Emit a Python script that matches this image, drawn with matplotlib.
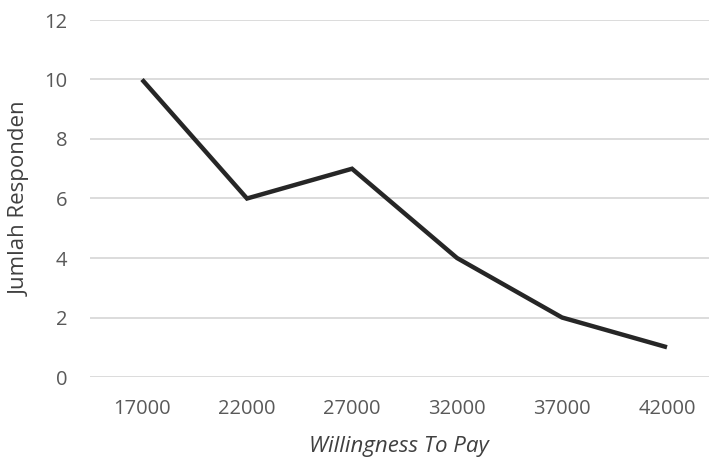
import matplotlib
matplotlib.use("Agg")
import matplotlib.pyplot as plt

categories = ["17000", "22000", "27000", "32000", "37000", "42000"]
values = [10, 6, 7, 4, 2, 1]
yticks = [0, 2, 4, 6, 8, 10, 12]

plt.rcParams['font.family'] = ['Open Sans', 'DejaVu Sans']

W, H = 709, 461
fig = plt.figure(figsize=(W/100, H/100), dpi=100)
left, right = 89.5, 709
top, bottom = 20, 377
ax = fig.add_axes([left/W, (H-bottom)/H, (right-left)/W, (bottom-top)/H])

x = list(range(len(categories)))
ax.plot(x, values, color="#262626", lw=3.2, solid_joinstyle="miter", solid_capstyle="butt", zorder=3)

ax.set_ylim(0, 12)
ax.set_yticks(yticks)
ax.set_xticks(x)
ax.set_xticklabels(categories)
ax.set_xlim(-0.5, 5.5 - (719.5 - 709) / 105)
ax.grid(axis="y", color="#d9d9d9", lw=1.3)
ax.grid(axis="x", visible=False)
for s in ax.spines.values():
    s.set_visible(False)
ax.tick_params(axis="both", length=0, colors="#595959", labelsize=14.5)
ax.tick_params(axis="x", pad=16)
ax.tick_params(axis="y", pad=16)
ax.set_axisbelow(True)

ax.set_xlabel("Willingness To Pay", fontsize=16, color="#404040", style="italic", labelpad=12)
ax.set_ylabel("Jumlah Responden", fontsize=16, color="#404040", labelpad=10)

fig.savefig("out.png", dpi=100)
